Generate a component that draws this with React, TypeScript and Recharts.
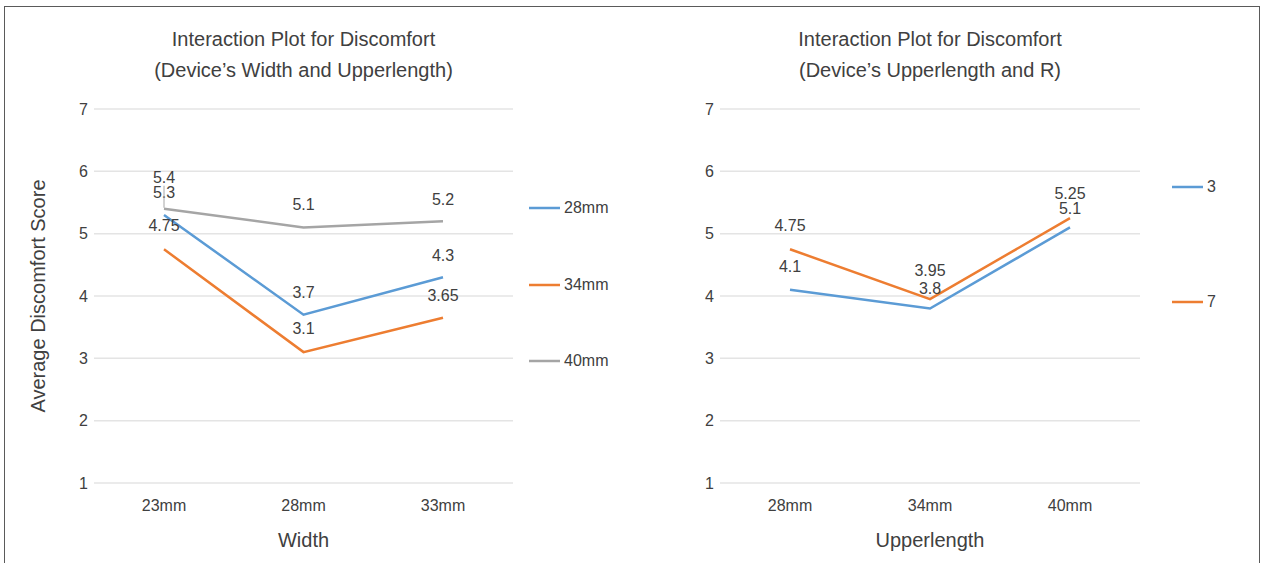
import React from 'react';
import { LineChart, Line, XAxis, YAxis, CartesianGrid, Legend, LabelList } from 'recharts';

// Left panel: device width on the axis, one line per upper length
const widthCategories = ['23mm', '28mm', '33mm'];
const upper28mm = [5.3, 3.7, 4.3];
const upper34mm = [4.75, 3.1, 3.65];
const upper40mm = [5.4, 5.1, 5.2];

// Right panel: upper length on the axis, one line per R
const upperCategories = ['28mm', '34mm', '40mm'];
const r3 = [4.1, 3.8, 5.1];
const r7 = [4.75, 3.95, 5.25];

const scoreTicks = [1, 2, 3, 4, 5, 6, 7];

const BLUE = '#5B9BD5';
const ORANGE = '#ED7D31';
const GRAY = '#A5A5A5';
const TEXT = '#404040';
const FONT = '"Liberation Sans", Arial, sans-serif';

const W = 1261;
const H = 563;

type Series = {
  key: string;
  name: string;
  values: number[];
  color: string;
  lift: number[]; // how far above the point each value label sits
  leader?: boolean[];
};

const leftSeries: Series[] = [
  { key: 's28', name: '28mm', values: upper28mm, color: BLUE, lift: [-22, -22, -22] },
  { key: 's34', name: '34mm', values: upper34mm, color: ORANGE, lift: [-24, -24, -22] },
  { key: 's40', name: '40mm', values: upper40mm, color: GRAY, lift: [-31, -23, -22], leader: [true, false, false] },
];

const rightSeries: Series[] = [
  { key: 'r3', name: '3', values: r3, color: BLUE, lift: [-23, -20, -18.5] },
  { key: 'r7', name: '7', values: r7, color: ORANGE, lift: [-23.5, -29, -25] },
];

const buildRows = (cats: string[], series: Series[]) =>
  cats.map((cat, i) => {
    const row: Record<string, string | number> = { cat };
    series.forEach((s) => {
      row[s.key] = s.values[i];
    });
    return row;
  });

const makeLabel = (s: Series) => (props: any) => {
  const x = props.x ?? props.viewBox?.x;
  const y = props.y ?? props.viewBox?.y;
  const { value, index } = props;
  if (x == null || y == null) return null;
  const dy = s.lift[index] ?? -22;
  return (
    <g>
      {s.leader && s.leader[index] && (
        <line x1={x} x2={x} y1={y + dy + 8} y2={y - 1} stroke="#A6A6A6" strokeWidth={1} />
      )}
      <text x={x} y={y + dy} textAnchor="middle" dominantBaseline="central" fontSize={16} fill={TEXT}>
        {value}
      </text>
    </g>
  );
};

const makeLegend = (series: Series[], gap: number) => () => (
  <div style={{ position: 'relative', width: 100, height: gap * (series.length - 1) + 20 }}>
    {series.map((s, i) => (
      <div
        key={s.key}
        style={{ position: 'absolute', left: 0, top: i * gap, height: 20, display: 'flex', alignItems: 'center' }}
      >
        <svg width={31} height={4}>
          <line x1={0} x2={31} y1={2} y2={2} stroke={s.color} strokeWidth={2.5} />
        </svg>
        <span style={{ marginLeft: 4, fontSize: 16, color: TEXT, lineHeight: '20px' }}>{s.name}</span>
      </div>
    ))}
  </div>
);

type PanelProps = {
  left: number;
  width: number;
  plotLeft: number;
  plotRight: number;
  title: string[];
  cats: string[];
  series: Series[];
  xTitle: string;
  yTitle?: string;
  legendLeft: number;
  legendTop: number;
  legendGap: number;
};

const Panel = ({ left, width, plotLeft, plotRight, title, cats, series, xTitle, yTitle, legendLeft, legendTop, legendGap }: PanelProps) => {
  const rows = buildRows(cats, series);
  const plotCenter = (plotLeft + plotRight) / 2;
  return (
    <div style={{ position: 'absolute', left, top: 0, width, height: H }}>
      <div
        style={{
          position: 'absolute',
          left: plotCenter - 250,
          top: 24,
          width: 500,
          textAlign: 'center',
          fontSize: 20,
          lineHeight: '31px',
          color: TEXT,
        }}
      >
        {title.map((t) => (
          <div key={t}>{t}</div>
        ))}
      </div>
      <LineChart width={width} height={H} data={rows} margin={{ top: 109, right: width - plotRight, bottom: 40, left: 0 }}>
        <CartesianGrid vertical={false} stroke="#E4E4E4" strokeWidth={1.5} />
        <XAxis
          dataKey="cat"
          padding={{ left: 70, right: 70 }}
          axisLine={false}
          tickLine={false}
          tickSize={0}
          tickMargin={17}
          height={40}
          interval={0}
          tick={{ fill: TEXT, fontSize: 16 }}
          label={{ value: xTitle, position: 'bottom', offset: 10, fill: TEXT, fontSize: 20 }}
        />
        <YAxis
          domain={[1, 7]}
          ticks={scoreTicks}
          width={plotLeft}
          axisLine={false}
          tickLine={false}
          tickSize={0}
          tickMargin={6}
          tick={{ fill: TEXT, fontSize: 16 }}
          label={
            yTitle
              ? { value: yTitle, angle: -90, position: 'insideLeft', offset: 38, fill: TEXT, fontSize: 20, style: { textAnchor: 'middle' } }
              : undefined
          }
        />
        <Legend
          layout="horizontal"
          align="center"
          verticalAlign="middle"
          content={makeLegend(series, legendGap)}
          wrapperStyle={{ left: legendLeft, top: legendTop - 10, width: 100 }}
        />
        {series.map((s) => (
          <Line
            key={s.key}
            dataKey={s.key}
            name={s.name}
            stroke={s.color}
            strokeWidth={2.5}
            dot={false}
            activeDot={false}
            isAnimationActive={false}
          >
            <LabelList dataKey={s.key} content={makeLabel(s)} />
          </Line>
        ))}
      </LineChart>
    </div>
  );
};

export default function App() {
  return (
    <div
      style={{
        position: 'absolute',
        left: 0,
        top: 0,
        width: W,
        height: H,
        overflow: 'hidden',
        background: '#fff',
        fontFamily: FONT,
      }}
    >
      <div
        style={{
          position: 'absolute',
          left: 4,
          top: 6,
          width: 1256,
          height: 620,
          border: '1.5px solid #5a5a5a',
          boxSizing: 'border-box',
        }}
      />
      <Panel
        left={0}
        width={626}
        plotLeft={94}
        plotRight={513}
        title={['Interaction Plot for Discomfort', '(Device\u2019s Width and Upperlength)']}
        cats={widthCategories}
        series={leftSeries}
        xTitle="Width"
        yTitle="Average Discomfort Score"
        legendLeft={529}
        legendTop={208}
        legendGap={76.5}
      />
      <Panel
        left={626}
        width={635}
        plotLeft={94}
        plotRight={514}
        title={['Interaction Plot for Discomfort', '(Device\u2019s Upperlength and R)']}
        cats={upperCategories}
        series={rightSeries}
        xTitle="Upperlength"
        legendLeft={546}
        legendTop={187}
        legendGap={115}
      />
    </div>
  );
}
